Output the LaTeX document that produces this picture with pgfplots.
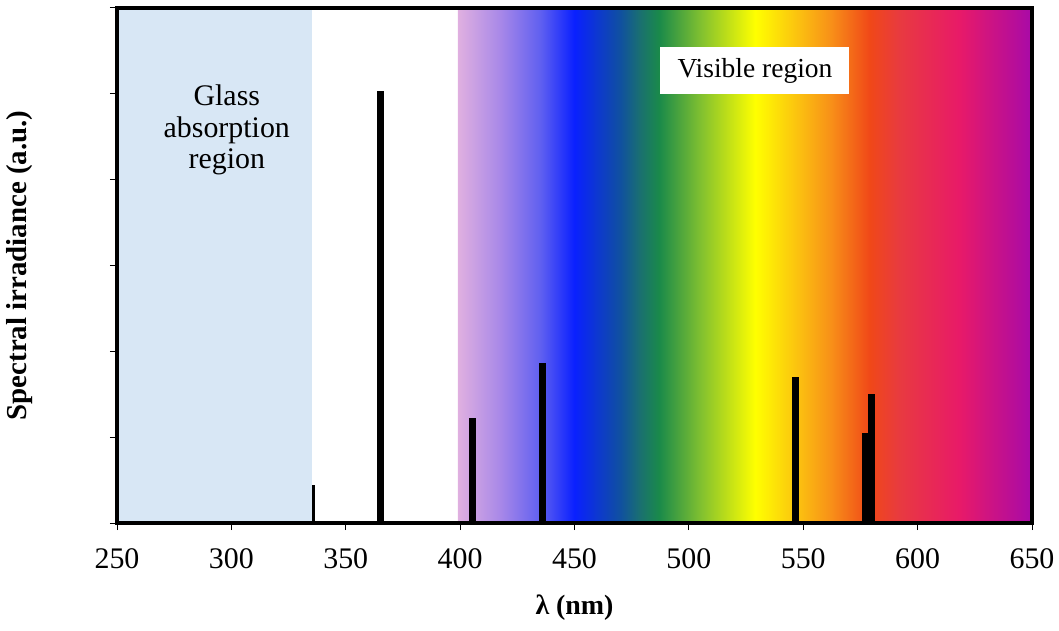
\documentclass[border=0pt]{standalone}
\usepackage{fontspec}
\setmainfont{Liberation Serif}
\usepackage{pgfplots}
\pgfplotsset{compat=1.18}

\definecolor{glassblue}{HTML}{D8E7F5}
\definecolor{s01}{HTML}{E0B0E0}
\definecolor{s02}{HTML}{A888E8}
\definecolor{s03}{HTML}{6060F0}
\definecolor{s04}{HTML}{0A20FF}
\definecolor{s05}{HTML}{1050A0}
\definecolor{s06}{HTML}{1A7070}
\definecolor{s07}{HTML}{1A8A4A}
\definecolor{s08}{HTML}{80C030}
\definecolor{s09}{HTML}{FFFF00}
\definecolor{s10}{HTML}{FBC010}
\definecolor{s11}{HTML}{F89018}
\definecolor{s12}{HTML}{F04818}
\definecolor{s13}{HTML}{E83A40}
\definecolor{s14}{HTML}{E81A68}
\definecolor{s15}{HTML}{A80AA8}

% 399 nm -> 25bp, 650 nm -> 75bp
\pgfdeclarehorizontalshading{spectrum}{100bp}{%
color(0bp)=(s01); color(25bp)=(s01); color(28.69bp)=(s02); color(32.17bp)=(s03);
color(35.16bp)=(s04); color(39.14bp)=(s05); color(40.86bp)=(s06); color(42.53bp)=(s07);
color(46.12bp)=(s08); color(50.90bp)=(s09); color(54.68bp)=(s10); color(57.47bp)=(s11);
color(60.86bp)=(s12); color(63.45bp)=(s13); color(68.63bp)=(s14); color(75bp)=(s15);
color(100bp)=(s15)}

\begin{document}
\begin{tikzpicture}
\begin{axis}[
  scale only axis,
  width=457.5bp, height=257.5bp,
  xmin=250, xmax=650, ymin=0, ymax=6,
  xtick={250,300,...,650},
  ytick={0,1,...,6},
  yticklabels={},
  tick align=outside,
  tick pos=left,
  major tick length=3.5bp,
  axis on top,
  axis line style={line width=2bp, black},
  tick style={black, line width=0.5bp},
  /pgf/number format/assume math mode=true,
  xticklabel style={font=\fontsize{15}{15}\selectfont, yshift=-6bp},
  every axis x label/.style={at={(axis description cs:0.5,0)}, anchor=center, yshift=-42.5bp, font=\fontsize{14}{14}\selectfont\bfseries},
  every axis y label/.style={at={(axis description cs:-0.106,0.5)}, rotate=90, anchor=center, font=\fontsize{14.5}{14.5}\selectfont\bfseries},
  xlabel={λ (nm)},
  ylabel={Spectral irradiance (a.u.)},
]
\fill[glassblue] (axis cs:250,0) rectangle (axis cs:335.2,6);
\fill[shading=spectrum] (axis cs:399,0) rectangle (axis cs:650,6);

\addplot[ycomb, black, line width=3.5bp] coordinates {
  (365.4,5.03) (405.2,1.22) (436.2,1.86) (546.4,1.70) (577.0,1.05) (580.0,1.50)
};
\addplot[ycomb, black, line width=1.5bp] coordinates {(336.0,0.44)};

\node[align=center, font=\fontsize{15}{16}\selectfont] at (axis cs:298,4.58) {Glass\\absorption\\region};
\node[fill=white, inner sep=0pt, minimum width=94.5bp, minimum height=23.5bp, font=\fontsize{13.8}{15}\selectfont] at (axis cs:528.9,5.27) {Visible region};
\end{axis}
\pgfresetboundingbox
\path ([shift={(-58.5bp,-53.5bp)}]current axis.south west) rectangle ([shift={(13.5bp,4bp)}]current axis.north east);
\end{tikzpicture}
\end{document}
